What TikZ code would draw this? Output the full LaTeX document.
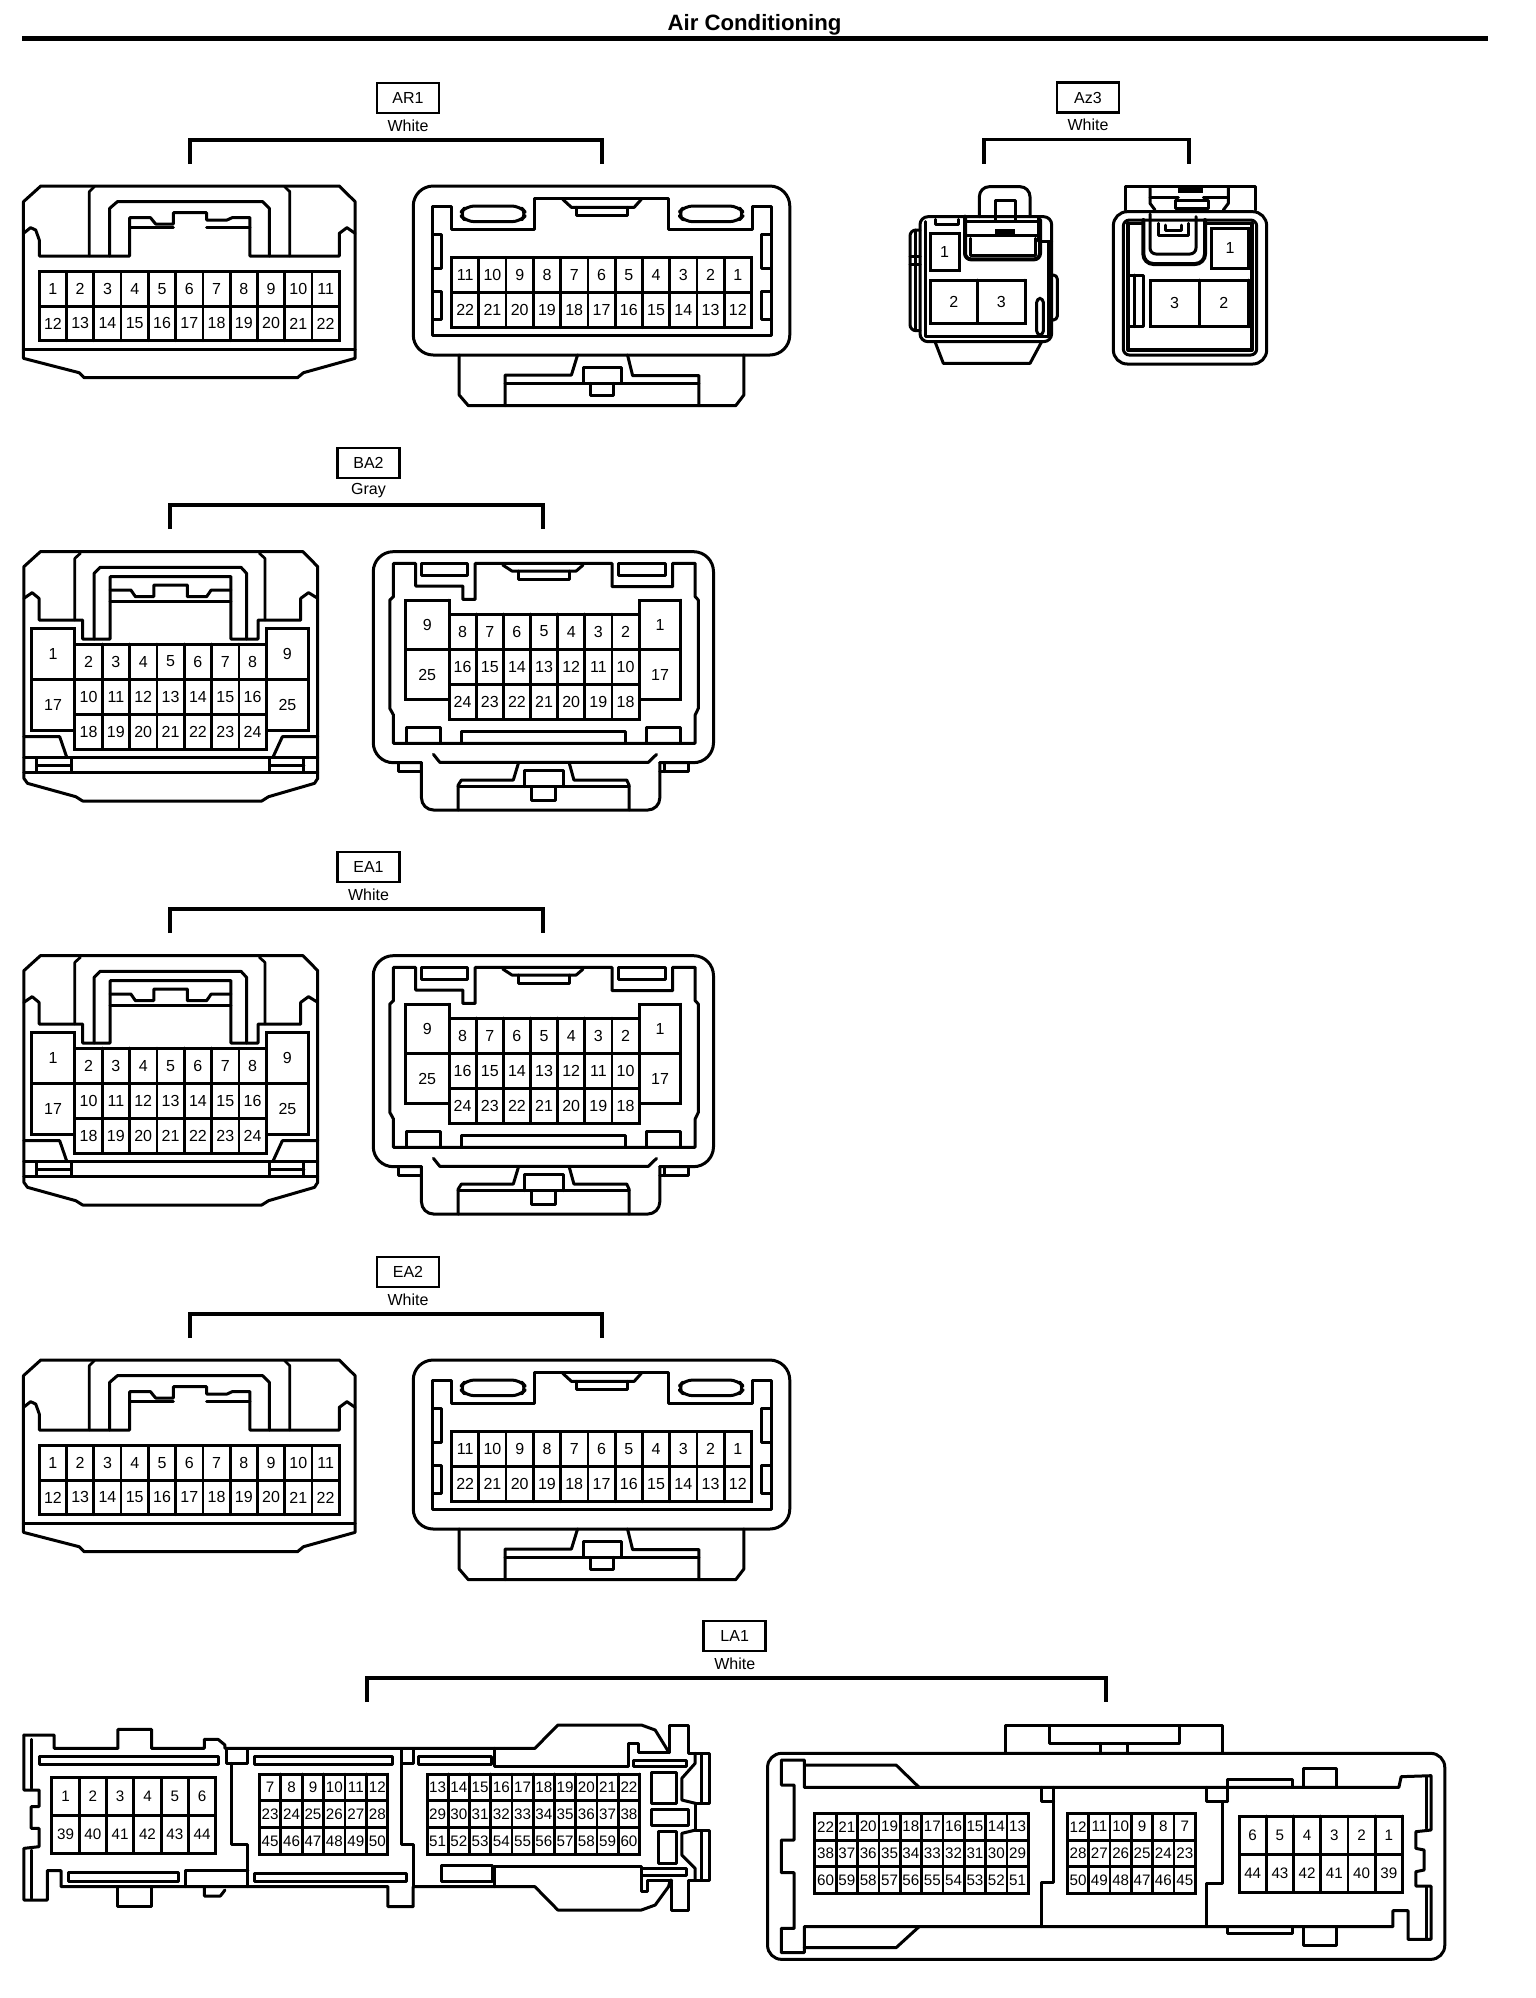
\documentclass[tikz,border=0pt]{standalone}
\usepackage{fontspec}
\setmainfont{Liberation Sans}
\newcommand\pinfont{\fontsize{8}{9}\selectfont}
\tikzset{
  ol/.style={line width=1.5pt,line join=round,line cap=round},
  tl/.style={line width=1.35pt,line join=round,line cap=round},
  bl/.style={line width=1.8pt,line join=miter},
  pinbox/.style={line width=1.5pt,line join=miter},
  pinlab/.style={inner sep=0pt,font=\pinfont},
  tagbox/.style={draw,line width=1.4pt,minimum width=31pt,minimum height=15pt,inner sep=0pt,font=\fontsize{8}{9}\selectfont},
  tagcol/.style={inner sep=0pt,font=\fontsize{8}{9}\selectfont},
  arscale/.style={x=0.2551pt,y=-0.16667pt},
  bascale/.style={x=0.22957pt,y=-0.16667pt},
  azscale/.style={x=0.16667pt,y=-0.16667pt},
}
% name, x0, x1, y0, y1, cols, rows, labels
\newcommand\pins[8]{%
  \draw[pinbox] (#2,#4) rectangle (#3,#5);
  \foreach \k in {1,...,#6}{%
    \pgfmathsetmacro\vx{#2+(#3-#2)*\k/#6}
    \draw[tl] (\vx,#4) -- (\vx,#5);
  }
  \foreach \k in {1,...,#7}{%
    \pgfmathsetmacro\hy{#4+(#5-#4)*\k/#7}
    \draw[pinbox] (#2,\hy) -- (#3,\hy);
  }
  \foreach \lab [count=\i from 0] in {#8}{%
    \pgfmathtruncatemacro\cc{mod(\i,#6)}
    \pgfmathtruncatemacro\rr{floor(\i/#6)}
    \pgfmathsetmacro\cx{#2+(#3-#2)*(\cc+.5)/#6}
    \pgfmathsetmacro\cy{#4+(#5-#4)*(\rr+.5)/#7}
    \node[pinlab] (#1-\i) at (\cx,\cy) {\lab};
  }
}
% group tag, colour and bracket (page pixels)
\newcommand\tagblock[7]{% name, label, colour, cx, boxy, bracket left, bracket right
  \begin{scope}[x=.5pt,y=-.5pt]
    \node[tagbox] (#1) at (#4,#5) {#2};
    \node[tagcol] (#1c) at (#4,#5+27.5) {#3};
    \coordinate (#1a) at (#6,#5+66);
    \coordinate (#1b) at (#7,#5+66);
    \draw[bl] (#1a) -- ++(0,-24) -| (#1b);
  \end{scope}
}
\newcommand\arleft[1]{%
  \draw[ol] (46,605)--(80,558)--(665,558)--(696,605)--(696,1075)--(595,1118)--(583,1133)--(165,1133)--(155,1118)--(46,1075)--cycle;
  \draw[ol] (46,1048)--(696,1048);
  \draw[ol] (46,700)--(60,683)--(70,690)--(77,720)--(77,768)--(254,768)--(254,653)--(295,653)--(305,672)--(340,672)--(340,638)--(405,638)--(405,660)--(445,660)--(455,653)--(490,653)--(490,768)--(665,768)--(665,700)--(680,683)--(696,700);
  \draw[tl] (175,768)--(175,575)--(185,560) (568,768)--(568,575)--(558,560);
  \draw[ol] (215,768)--(215,625)--(230,605)--(515,605)--(528,625)--(528,768);
  \draw[ol] (254,682)--(340,682) (405,682)--(490,682);
  \pins{#1}{77}{665}{815}{1022}{11}{2}{1,2,3,4,5,6,7,8,9,10,11,12,13,14,15,16,17,18,19,20,21,22}
}
\newcommand\arright[1]{%
  \draw[ol,rounded corners=10pt] (810,558) rectangle (1548,1065);
  \draw[ol] (848,1005)--(848,618)--(885,618)--(885,688)--(1047,688)--(1047,595)--(1310,595)--(1310,688)--(1475,688)--(1475,618)--(1512,618)--(1512,1005)--cycle;
  \foreach \a/\b in {900/1033,1328/1460}{%
    \draw[ol,rounded corners=4pt] (\a,642)--(\a+14,618)--(\b-14,618)--(\b,642)--(\b-14,665)--(\a+14,665)--cycle;
  }
  \draw[ol] (1103,598)--(1120,622)--(1243,622)--(1257,598);
  \draw[ol] (1130,622)--(1130,645)--(1230,645)--(1230,622);
  \draw[ol] (848,703)--(865,703)--(865,805)--(848,805) (848,875)--(865,875)--(865,958)--(848,958);
  \draw[ol] (1512,703)--(1493,703)--(1493,805)--(1512,805) (1512,875)--(1493,875)--(1493,958)--(1512,958);
  \draw[ol] (900,1065)--(900,1185)--(918,1217)--(1442,1217)--(1458,1185)--(1458,1065);
  \draw[ol] (1132,1065)--(1120,1125)--(990,1125)--(990,1217);
  \draw[ol] (1230,1065)--(1240,1127)--(1370,1127)--(1370,1217);
  \draw[ol] (990,1150)--(1370,1150);
  \draw[ol] (1143,1150)--(1143,1103)--(1218,1103)--(1218,1150);
  \draw[ol] (1157,1150)--(1157,1187)--(1203,1187)--(1203,1150);
  \pins{#1}{885}{1473}{772}{983}{11}{2}{11,10,9,8,7,6,5,4,3,2,1,22,21,20,19,18,17,16,15,14,13,12}
}
\newcommand\baleft[1]{%
  \draw[ol] (52,380)--(88,335)--(660,335)--(692,380)--(692,1015)--(685,1030)--(585,1070)--(570,1083)--(180,1083)--(165,1070)--(60,1030)--(52,1015)--cycle;
  \draw[ol] (52,997)--(692,997) (52,953)--(692,953);
  \draw[ol] (80,953)--(80,997) (155,953)--(155,997) (80,975)--(155,975);
  \draw[ol] (587,953)--(587,997) (662,953)--(662,997) (587,975)--(662,975);
  \draw[ol] (52,890)--(130,890)--(145,950) (692,890)--(615,890)--(595,950);
  \draw[ol] (52,475)--(70,458)--(85,475)--(85,540)--(180,540)--(180,597)--(240,597)--(240,410)--(503,410)--(503,597)--(562,597)--(562,540)--(655,540)--(655,475)--(672,458)--(692,475);
  \draw[tl] (163,540)--(163,355)--(175,340) (577,540)--(577,355)--(565,340);
  \draw[ol] (205,597)--(205,400)--(218,382)--(525,382)--(537,400)--(537,597);
  \draw[ol] (240,450)--(285,450)--(295,470)--(335,470)--(335,435)--(408,435)--(408,470)--(450,470)--(460,450)--(503,450);
  \draw[ol] (240,483)--(503,483);
  \pins{#1m}{163}{580}{612}{928}{7}{3}{2,3,4,5,6,7,8,10,11,12,13,14,15,16,18,19,20,21,22,23,24}
  \pins{#1a}{68}{163}{565}{870}{1}{2}{1,17}
  \pins{#1b}{580}{672}{565}{870}{1}{2}{9,25}
}
\newcommand\baright[1]{%
  \draw[ol] (918,968) [rounded corners=10pt] --(813,968)--(813,335)--(1554,335)--(1554,968) [sharp corners] --(1437,968);
  \draw[ol] (868,968)--(868,995)--(918,995);
  \draw[ol] (1437,995)--(1499,995)--(1499,968);
  \draw[ol] (1448,968)--(1448,995);
  \draw[ol,rounded corners=6pt] (918,968)--(918,1110)--(1437,1110)--(1437,968);
  \draw[ol] (857,910)--(857,825)--(849,805)--(849,480)--(857,470)--(857,370)--(905,370)--(905,438)--(1008,438)--(1008,478)--(1035,478)--(1035,370)--(1333,370)--(1333,440)--(1465,440)--(1465,370)--(1514,370)--(1514,470)--(1521,480)--(1521,805)--(1514,825)--(1514,910)--cycle;
  \draw[ol] (918,370)rectangle(1018,405) (1348,370)rectangle(1450,405);
  \draw[ol] (1095,375)--(1115,393)--(1255,393)--(1270,375);
  \draw[ol] (1130,393)--(1130,418)--(1240,418)--(1240,393);
  \draw[ol] (944,943)--(958,967)--(1412,967)--(1430,943);
  \draw[ol] (1129,970)--(1118,1020)--(1005,1020)--(998,1035)--(998,1110);
  \draw[ol] (1240,970)--(1250,1020)--(1365,1020)--(1370,1035)--(1370,1110);
  \draw[ol] (998,1040)--(1370,1040);
  \draw[ol] (1143,1040)--(1143,990)--(1228,990)--(1228,1040);
  \draw[ol] (1157,1040)--(1157,1080)--(1210,1080)--(1210,1040);
  \draw[ol] (885,910)--(885,862)--(960,862)--(960,910);
  \draw[ol] (1005,910)--(1005,875)--(1362,875)--(1362,910);
  \draw[ol] (1408,910)--(1408,862)--(1483,862)--(1483,910);
  \pins{#1m}{978}{1392}{522}{838}{7}{3}{8,7,6,5,4,3,2,16,15,14,13,12,11,10,24,23,22,21,20,19,18}
  \pins{#1a}{883}{978}{480}{778}{1}{2}{9,25}
  \pins{#1b}{1392}{1483}{480}{778}{1}{2}{1,17}
}
\begin{document}
\begin{tikzpicture}[x=.5pt,y=-.5pt]
\useasboundingbox (0,0) rectangle (1536,1998);
\fill[white] (0,0) rectangle (1536,1998);
\node[inner sep=0pt,font=\fontsize{11.1}{12}\selectfont\bfseries] (title) at (754.5,25) {Air Conditioning};
\coordinate (ruleL) at (22,38.5);
\coordinate (ruleR) at (1488,38.5);
\draw[line width=2.5pt] (ruleL) -- (ruleR);

% AR1
\tagblock{ar}{AR1}{White}{408}{98}{190}{602}
\begin{scope}[arscale]
  \arleft{arl}
  \arright{arr}
\end{scope}

% Az3
\tagblock{az}{Az3}{White}{1088}{97.5}{984}{1189}
\begin{scope}[azscale,xshift=430pt,yshift=-30pt]
  % left connector
  \draw[ol,rounded corners=4pt] (180,845)--(180,470)--(575,470)--(575,845)--cycle;
  \draw[ol] (195,485)--(195,830)--(565,830)--(565,545);
  \draw[ol] (225,845)--(250,910)--(510,910)--(545,845);
  \draw[ol,rounded corners=5pt] (358,470)--(358,380)--(510,380)--(510,470);
  \draw[ol] (405,480)--(405,420)--(465,420)--(465,480);
  \draw[ol,line width=2pt,rounded corners=3pt] (315,470)--(315,598)--(540,598)--(540,480);
  \draw[ol] (315,485)--(530,485) (315,525)--(535,525);
  \draw[ol] (330,535)--(330,585)--(525,585)--(525,535);
  \fill (405,508) rectangle (465,522);
  \draw[ol] (225,478)--(225,492)--(295,492)--(295,478);
  \draw[ol] (535,475)--(535,545)--(575,545);
  \draw[ol,rounded corners=3pt] (180,510)--(150,510)--(150,812)--(180,812);
  \draw[ol] (165,510)--(165,810) (150,590)--(180,590) (150,612)--(180,612);
  \draw[ol,rounded corners=2pt] (578,645)--(592,645)--(592,780)--(578,780);
  \draw[ol,rounded corners=2pt] (530,825)--(530,715)--(550,715)--(550,825)--cycle;
  \pins{azl1}{210}{298}{520}{632}{1}{1}{1}
  \pins{azl2}{210}{495}{660}{790}{2}{1}{2,3}
  % right connector
  \draw[ol,rounded corners=7pt] (760,455) rectangle (1220,912);
  \draw[ol,rounded corners=3pt] (790,480) rectangle (1190,885);
  \draw[ol,line width=2pt] (805,490)--(805,870)--(1175,870)--(1175,490);
  \draw[ol] (805,490)--(850,490) (1035,490)--(1175,490);
  \draw[ol] (795,450)--(795,380)--(1185,380)--(1185,450);
  \draw[ol] (870,385)--(870,430)--(885,450) (1105,385)--(1105,430)--(1090,450);
  \draw[ol] (870,412)--(955,412) (1030,412)--(1105,412);
  \fill (955,385) rectangle (1030,400);
  \draw[ol] (945,445)--(945,420)--(1045,420)--(1045,445)--cycle;
  \draw[ol,line width=2pt,rounded corners=5pt] (850,480)--(850,612)--(1035,612)--(1035,480);
  \draw[ol,rounded corners=3pt] (870,462)--(870,582)--(1008,582)--(1008,470);
  \draw[ol] (895,490)--(895,525)--(985,525)--(985,490);
  \draw[ol] (915,495)--(915,510)--(965,510)--(965,495);
  \draw[ol] (805,645)--(850,645)--(850,800)--(805,800) (822,645)--(822,800);
  \pins{azr1}{1055}{1165}{505}{625}{1}{1}{1}
  \pins{azr2}{870}{1165}{660}{800}{2}{1}{3,2}
\end{scope}

% BA2
\tagblock{ba}{BA2}{Gray}{368.5}{463}{170}{543}
\begin{scope}[bascale,yshift=-220pt]
  \baleft{bal}
  \baright{bar}
\end{scope}

% EA1
\tagblock{eo}{EA1}{White}{368.5}{867}{170}{543}
\begin{scope}[bascale,yshift=-422pt]
  \baleft{eol}
  \baright{eor}
\end{scope}

% EA2
\tagblock{et}{EA2}{White}{408}{1272}{190}{602}
\begin{scope}[arscale,yshift=-587pt]
  \arleft{etl}
  \arright{etr}
\end{scope}

% LA1
\tagblock{la}{LA1}{White}{734.7}{1636}{367}{1106}
\renewcommand\pinfont{\fontsize{7.6}{9}\selectfont}
\begin{scope}[bascale,yshift=-840pt]
  \draw[ol] (52,165)--(52,330)--(85,330)--(85,380)--(68,380)--(68,445)--(85,445)--(85,500)--(52,505)--(52,660)--(103,660)--(103,572)--(133,572)--(133,620)--(845,620)--(845,680)--(900,680)--(900,620)--(1165,620)--(1215,690)--(1397,690)--(1427,675)--(1456,620)--(1460,600);
  \draw[ol] (1463,600)--(1463,690)--(1499,690)--(1499,600)--(1546,600)--(1546,450)--(1515,450)--(1515,370)--(1546,370)--(1546,220)--(1499,220)--(1499,135)--(1459,135)--(1459,218);
  \draw[ol] (1456,215)--(1427,150)--(1397,135)--(1215,135)--(1165,205)--(490,205)--(490,195)--(475,178)--(445,178)--(445,205)--(330,205)--(330,148)--(257,148)--(257,205)--(118,205)--(118,165)--(52,165);
  \draw[tl] (68,178)--(68,325) (68,510)--(68,655);
  \draw[ol] (85,228) rectangle (475,252) (555,228) rectangle (855,252) (912,228) rectangle (1070,252);
  \draw[ol] (493,205) rectangle (540,250) (875,205) rectangle (900,250);
  \draw[ol] (505,250)--(505,492)--(540,492)--(540,620);
  \draw[ol] (875,250)--(875,492)--(900,492)--(900,620);
  \draw[ol] (405,620)--(405,572)--(540,572);
  \draw[ol] (150,578) rectangle (388,605) (555,580) rectangle (885,605) (962,555) rectangle (1072,605);
  \draw[ol] (1078,205)--(1078,258)--(1368,258)--(1368,190)--(1390,190)--(1390,218)--(1456,218);
  \draw[ol] (1379,240) rectangle (1496,260);
  \draw[ol] (1419,278) rectangle (1474,370) (1419,388) rectangle (1499,435) (1434,455) rectangle (1474,550);
  \draw[ol] (1514,220)--(1514,250)--(1485,295)--(1485,360)--(1515,370);
  \draw[ol] (1515,450)--(1485,460)--(1485,525)--(1514,565)--(1514,600);
  \draw[tl] (1528,225)--(1528,370) (1528,455)--(1528,600);
  \draw[ol] (1078,620)--(1078,560)--(1398,560)--(1398,635)--(1410,635)--(1410,600)--(1463,600);
  \draw[ol] (1398,565) rectangle (1496,585);
  \draw[ol] (257,620)--(257,680)--(330,680)--(330,620);
  \draw[ol] (445,620)--(445,648)--(480,648)--(490,630);
  \pins{lal1}{113}{470}{292}{520}{6}{2}{1,2,3,4,5,6,39,40,41,42,43,44}
  \pins{lal2}{565}{845}{282}{523}{6}{3}{7,8,9,10,11,12,23,24,25,26,27,28,45,46,47,48,49,50}
  \pins{lal3}{930}{1393}{282}{523}{10}{3}{13,14,15,16,17,18,19,20,21,22,29,30,31,32,33,34,35,36,37,38,51,52,53,54,55,56,57,58,59,60}
\end{scope}
\begin{scope}[bascale,xshift=370pt,yshift=-840pt]
  \draw[ol,rounded corners=7pt] (60,220) rectangle (1535,838);
  \draw[ol] (578,220)--(578,135)--(1050,135)--(1050,220);
  \draw[ol] (675,140)--(675,190)--(957,190)--(957,140);
  \draw[ol] (785,190)--(785,220) (845,190)--(845,220);
  \draw[ol] (90,240)--(140,240)--(140,322)--(1435,322)--(1440,290)--(1505,287)--(1505,450)--(1472,455)--(1472,505)--(1490,510)--(1490,570)--(1472,575)--(1472,618)--(1505,618)--(1505,778)--(1455,778)--(1455,692)--(1422,692)--(1422,740)--(140,740)--(140,818)--(90,818)--(90,745)--(118,745)--(118,578)--(90,578)--(90,480)--(118,480)--(118,315)--(90,315)--cycle;
  \draw[tl] (1495,292)--(1495,445) (1495,622)--(1495,775);
  \draw[ol] (140,255)--(340,255)--(390,322) (140,803)--(340,803)--(390,740);
  \draw[ol] (657,322)--(657,365)--(683,365) (683,322)--(683,608)--(657,608)--(657,740);
  \draw[ol] (1017,322)--(1017,365)--(1062,365) (1062,322)--(1062,365) (1050,365)--(1050,610)--(1017,610)--(1017,740);
  \draw[ol] (1062,322)--(1062,298)--(1203,298)--(1203,322);
  \draw[ol] (1228,322)--(1228,265)--(1300,265)--(1300,322);
  \draw[ol] (1062,740)--(1062,760)--(1203,760)--(1203,740);
  \draw[ol] (1228,740)--(1228,795)--(1300,795)--(1300,740);
  \pins{lar1}{163}{628}{400}{640}{10}{3}{22,21,20,19,18,17,16,15,14,13,38,37,36,35,34,33,32,31,30,29,60,59,58,57,56,55,54,53,52,51}
  \pins{lar2}{713}{992}{400}{640}{6}{3}{12,11,10,9,8,7,28,27,26,25,24,23,50,49,48,47,46,45}
  \pins{lar3}{1087}{1443}{408}{637}{6}{2}{6,5,4,3,2,1,44,43,42,41,40,39}
\end{scope}
\end{tikzpicture}
\end{document}
